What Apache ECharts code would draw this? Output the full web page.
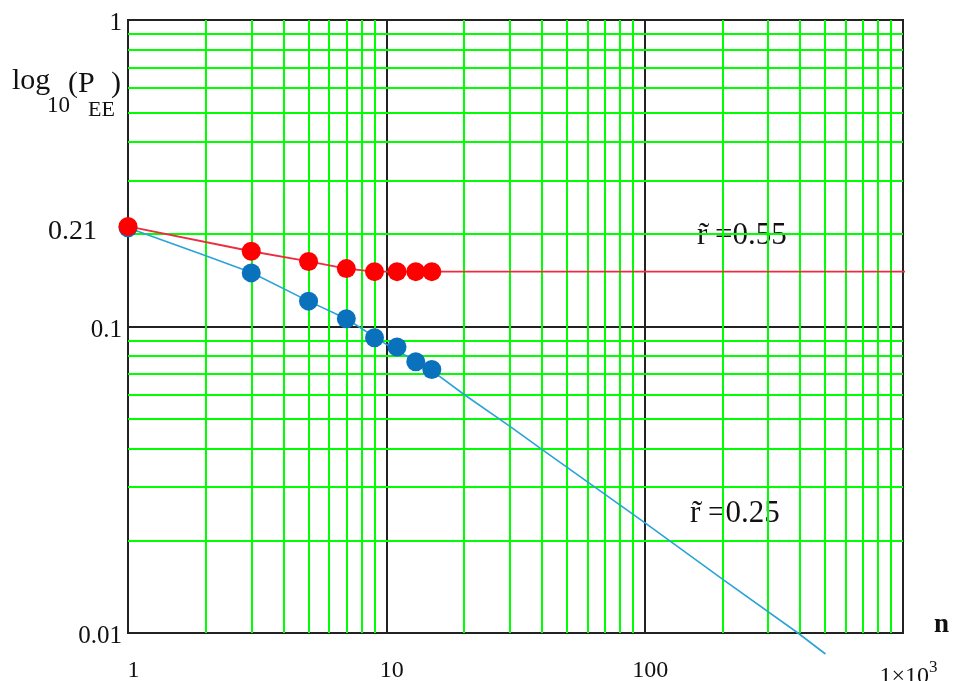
<!DOCTYPE html>
<html>
<head>
<meta charset="utf-8">
<script src="https://cdn.jsdelivr.net/npm/echarts@6/dist/echarts.min.js"></script>
<style>
  html, body { margin: 0; padding: 0; background: #fff; }
  #chart { width: 955px; height: 681px; }
</style>
</head>
<body>
<div id="chart"></div>
<script>
// ---- data ----
const nPoints = [1, 3, 5, 7, 9, 11, 13, 15];
const redPoints = [0.212, 0.176, 0.163, 0.1545, 0.151, 0.151, 0.151, 0.151];
const bluePoints = [0.21, 0.1496, 0.121, 0.106, 0.0919, 0.0857, 0.0767, 0.0724];

const redFitN = [1, 3, 5, 7, 9, 15, 1120];
const redFitP = [0.212, 0.176, 0.163, 0.1545, 0.151, 0.151, 0.151];

const blueFitN = [1, 2, 3, 5, 7, 10, 15, 20, 30, 40, 100, 200, 392, 501];
const blueFitP = [0.21, 0.170, 0.150, 0.121, 0.106, 0.0874, 0.0718, 0.060, 0.0473, 0.0397, 0.0229, 0.0150, 0.0100, 0.00854];

const yMarkValue = 0.21;
const xTickLabels = { 1: '1', 10: '10', 100: '100', 1000: '{a|1×10}{s|3}' };
const yTickLabels = { 0.01: '0.01', 0.1: '0.1', 1: '1' };

const labelRed = 'r\u0303 =0.55';
const labelBlue = 'r\u0303 =0.25';

// minor grid values (2..9 in each decade)
const xMinor = [];
[1, 10, 100].forEach(d => { for (let k = 2; k <= 9; k++) xMinor.push(k * d); });
const yMinor = [];
[0.01, 0.1].forEach(d => { for (let k = 2; k <= 9; k++) yMinor.push(+(k * d).toFixed(3)); });

const zip = (a, b) => a.map((v, i) => [v, b[i]]);
const FONT = '"Liberation Serif", "Times New Roman", serif';
const TXT = '#111';

const chart = echarts.init(document.getElementById('chart'), null, { renderer: 'canvas' });

const option = {
  animation: false,
  backgroundColor: '#fff',
  grid: {
    left: 128, right: 52, top: 20, bottom: 48,
    outerBoundsMode: 'none', containLabel: false,
    show: true, borderColor: '#222', borderWidth: 2, backgroundColor: 'transparent'
  },
  xAxis: {
    type: 'log', logBase: 10, min: 1, max: 1000,
    axisLine: { show: true, lineStyle: { color: '#222', width: 2 } },
    axisTick: { show: false },
    splitLine: { show: true, lineStyle: { color: '#222', width: 2 } },
    axisLabel: {
      margin: 26, fontFamily: FONT, fontSize: 24, color: TXT,
      padding: [0, 0, 0, 11],
      formatter: v => xTickLabels[Math.round(v)] || '',
      rich: {
        a: { fontFamily: FONT, fontSize: 24, color: TXT, padding: [6, 0, 0, 0] },
        s: { fontFamily: FONT, fontSize: 17, color: TXT, verticalAlign: 'top', padding: [0, 0, 10, 0] }
      }
    },
    z: 3
  },
  yAxis: {
    type: 'log', logBase: 10, min: 0.01, max: 1,
    axisLine: { show: true, lineStyle: { color: '#222', width: 2 } },
    axisTick: { show: false },
    splitLine: { show: true, lineStyle: { color: '#222', width: 2 } },
    axisLabel: {
      margin: 6, fontFamily: FONT, fontSize: 25, color: TXT,
      verticalAlign: 'top', lineHeight: 7,
      formatter: v => {
        const key = Object.keys(yTickLabels).find(k => Math.abs(+k - v) < v * 1e-6);
        return key !== undefined ? yTickLabels[key] : '';
      }
    },
    z: 3
  },
  graphic: [
    { type: 'text', left: 12, top: 66, style: { text: 'log', font: '30px ' + FONT, fill: TXT } },
    { type: 'text', left: 47, top: 94, style: { text: '10', font: '23px ' + FONT, fill: TXT } },
    { type: 'text', left: 68, top: 69, style: { text: '(P', font: '30px ' + FONT, fill: TXT } },
    { type: 'text', left: 88, top: 99, style: { text: 'EE', font: '22px ' + FONT, fill: TXT } },
    { type: 'text', left: 111, top: 69, style: { text: ')', font: '30px ' + FONT, fill: TXT } },
    { type: 'text', left: 697, top: 220, style: { text: labelRed, font: '31px ' + FONT, fill: TXT } },
    { type: 'text', left: 690, top: 498, style: { text: labelBlue, font: '31px ' + FONT, fill: TXT } },
    { type: 'text', left: 934, top: 612, style: { text: 'n', font: 'bold 27px ' + FONT, fill: TXT } }
  ],
  series: [
    {
      name: 'grid', type: 'line', data: [], z: 1, silent: true,
      markLine: {
        silent: true, symbol: 'none', animation: false,
        label: { show: false },
        lineStyle: { color: '#00ff00', width: 2, type: 'solid' },
        data: xMinor.map(v => ({ xAxis: v })).concat(yMinor.map(v => ({ yAxis: v })))
      }
    },
    {
      name: 'blueFit', type: 'line', data: zip(blueFitN, blueFitP), z: 5,
      showSymbol: false, symbol: 'none', clip: false,
      lineStyle: { color: '#2aa3d6', width: 1.6 }
    },
    {
      name: 'redFit', type: 'line', data: zip(redFitN, redFitP), z: 5,
      showSymbol: false, symbol: 'none', clip: false,
      lineStyle: { color: '#ee2c40', width: 1.8 }
    },
    {
      name: 'bluePts', type: 'scatter', data: zip(nPoints, bluePoints), z: 6,
      symbol: 'circle', symbolSize: 19, clip: true,
      itemStyle: { color: '#0a72bd', opacity: 1 }
    },
    {
      name: 'redPts', type: 'scatter', data: zip(nPoints, redPoints), z: 7,
      symbol: 'circle', symbolSize: 19, clip: true,
      itemStyle: { color: '#ff0000', opacity: 1 }
    },
    {
      name: 'mark021', type: 'scatter', data: [[1, yMarkValue]], z: 7,
      symbolSize: 0, clip: false, silent: true,
      itemStyle: { opacity: 1 },
      label: {
        show: true, position: 'left', distance: 31, offset: [0, 4],
        formatter: '0.21', fontFamily: FONT, fontSize: 28, color: TXT, opacity: 1
      }
    }
  ]
};
chart.setOption(option);
</script>
</body>
</html>
